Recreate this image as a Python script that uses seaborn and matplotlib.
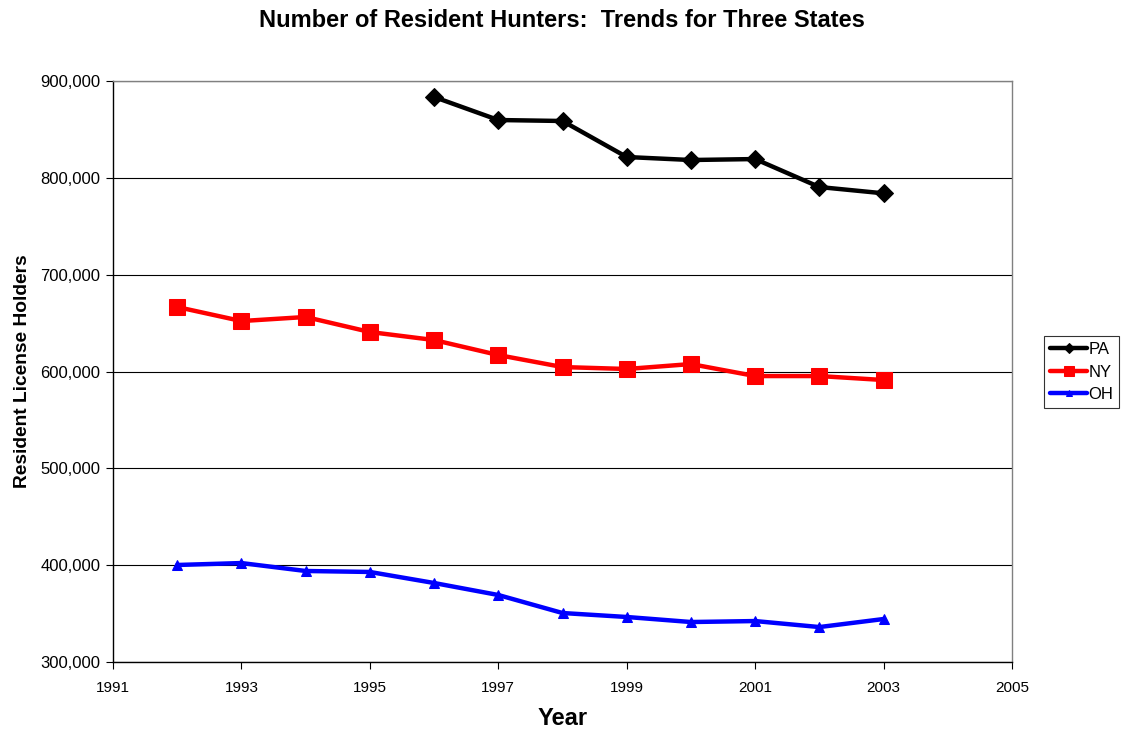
import numpy as np
import pandas as pd
import matplotlib
matplotlib.use("Agg")
import matplotlib.pyplot as plt
import seaborn as sns
from matplotlib.ticker import FuncFormatter

years = list(range(1992, 2004))
pa = [np.nan, np.nan, np.nan, np.nan, 883500, 859700, 858700, 821500, 818400, 819400, 790500, 784000]
ny = [666600, 652100, 656300, 640800, 632500, 617000, 604600, 602600, 607700, 595300, 595300, 591200]
oh = [400200, 402200, 394000, 393000, 381600, 369200, 350600, 346500, 341300, 342300, 336100, 344400]
states = ["PA", "NY", "OH"]
colors = {"PA": "#000000", "NY": "#ff0000", "OH": "#0000ff"}
markers = {"PA": "D", "NY": "s", "OH": "^"}
msizes = {"PA": 9, "NY": 11, "OH": 7}

df = pd.DataFrame({"Year": years * 3,
                   "Holders": pa + ny + oh,
                   "State": [s for s in states for _ in years]})

sns.set_style("white")
plt.rcParams["font.family"] = ["Liberation Sans", "DejaVu Sans"]
plt.rcParams["text.color"] = "black"
plt.rcParams["axes.labelcolor"] = "black"
plt.rcParams["xtick.color"] = "black"
plt.rcParams["ytick.color"] = "black"

fig = plt.figure(figsize=(11.24, 7.35), dpi=100)
ax = fig.add_axes([0.1005, 0.0993, 0.7999, 0.7905])

for s in states:
    sub = df[df["State"] == s].dropna()
    sns.lineplot(data=sub, x="Year", y="Holders", color=colors[s], marker=markers[s],
                 markersize=msizes[s], markeredgecolor=colors[s], linewidth=3.2,
                 label=s, ax=ax, zorder=3)

ax.set_xlim(1991, 2005)
ax.set_ylim(300000, 900000)
ax.set_xticks(range(1991, 2006, 2))
ax.set_yticks(range(300000, 900001, 100000))
ax.yaxis.set_major_formatter(FuncFormatter(lambda v, p: f"{int(v):,}"))
ax.grid(axis="y", color="black", linewidth=0.8)
ax.grid(axis="x", visible=False)
for sp in ax.spines.values():
    sp.set_color("#808080")
    sp.set_linewidth(1)
ax.spines["left"].set_color("black")
ax.spines["bottom"].set_color("black")
ax.tick_params(axis="both", direction="out", length=5, width=0.8, color="black",
               left=True, bottom=True)
ax.tick_params(axis="x", labelsize=11, pad=9)
ax.tick_params(axis="y", labelsize=12, pad=4)

ax.set_xlabel("Year", fontsize=17, fontweight="bold", labelpad=8)
ax.set_ylabel("Resident License Holders", fontsize=13.8, fontweight="bold", labelpad=7)
fig.suptitle("Number of Resident Hunters:  Trends for Three States", fontsize=17,
             fontweight="bold", y=0.988)

leg = ax.legend(loc="center left", bbox_to_anchor=(1.036, 0.499), fontsize=12,
                frameon=True, fancybox=False, edgecolor="black", handlelength=2.2,
                borderpad=0.35, labelspacing=0.45, handletextpad=0.1, borderaxespad=0,
                markerscale=0.6)
leg.get_frame().set_linewidth(0.8)

fig.savefig("out.png", dpi=100)
